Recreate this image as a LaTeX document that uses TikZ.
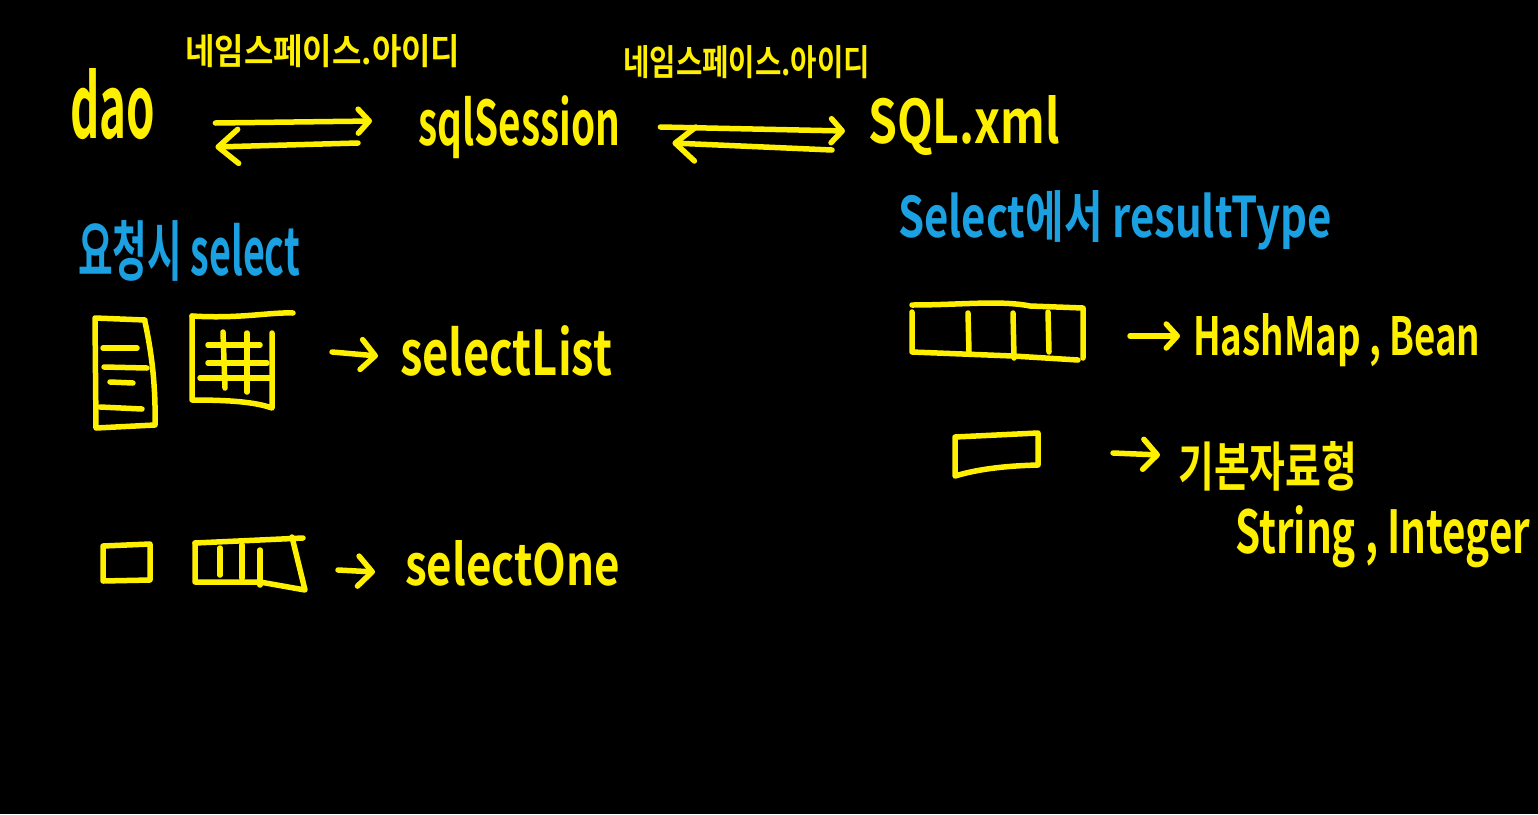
\documentclass[tikz,border=0pt]{standalone}
\usepackage{fontspec}
\setmainfont{Noto Sans CJK KR}[BoldFont={Noto Sans CJK KR Bold}]
\usetikzlibrary{arrows.meta}
\definecolor{hy}{RGB}{255,240,0}
\definecolor{hb}{RGB}{27,160,225}
\newcommand{\fitwh}[3]{\resizebox{#1pt}{#2pt}{#3}}
\begin{document}
\begin{tikzpicture}[x=1pt,y=-1pt,
  pen/.style={draw=hy,line width=5.5pt,line cap=round,line join=round},
  bar/.style={pen,-{Straight Barb[length=11pt,width=24pt,round]}},
  midbar/.style={pen,-{Straight Barb[length=14pt,width=30pt,round]}},
  bigbar/.style={pen,-{Straight Barb[length=20pt,width=34pt,round]}},
  hand/.style={text=hy,inner sep=0pt,anchor=base west,font=\fontsize{20}{24}\selectfont\bfseries},
  handblue/.style={hand,text=hb}]
\fill[black] (0,0) rectangle (1538,814);
\useasboundingbox (0,0) rectangle (1538,814);

% texts
\node[hand] (dao) at (70,138) {\fitwh{85}{70}{dao}};
\node[hand] (ns1) at (185,64) {\fitwh{275}{30}{네임스페이스.아이디}};
\node[hand] (sql) at (418,145) {\fitwh{202}{50}{sqlSession}};
\node[hand] (ns2) at (623,75) {\fitwh{247}{30}{네임스페이스.아이디}};
\node[hand] (xml) at (868,143) {\fitwh{192}{48}{SQL.xml}};
\node[handblue] (req) at (78,275) {\fitwh{222}{55}{요청시 select}};
\node[handblue] (rt) at (898,237) {\fitwh{434}{47}{Select에서 resultType}};
\node[hand] (sl) at (400,375) {\fitwh{212}{50}{selectList}};
\node[hand] (so) at (405,585) {\fitwh{215}{45}{selectOne}};
\node[hand] (hm) at (1193,355) {\fitwh{287}{42}{HashMap , Bean}};
\node[hand] (basic) at (1178,486) {\fitwh{179}{45}{기본자료형}};
\node[hand] (si) at (1235,553) {\fitwh{295}{48}{String , Integer}};

% top arrows
\draw[bar] ([shift={(60,-15)}]dao.base east) -- ([shift={(-46,-24)}]sql.base west);
\draw[bigbar] ([shift={(-60,-2)}]sql.base west) -- ([shift={(60,9)}]dao.base east);
\draw[bar] ([shift={(40,-18)}]sql.base east) -- ([shift={(-23,-12)}]xml.base west);
\draw[bigbar] ([shift={(-36,7)}]xml.base west) -- ([shift={(52,-2)}]sql.base east);

% list icon
\draw[pen] (145,320) -- (95,318) -- (96,428) -- (155,425) .. controls (156,380) and (150,345) .. (145,322);
\draw[pen] (103,348) -- (137,348);
\draw[pen] (104,367) -- (147,368);
\draw[pen] (110,382) -- (133,383);
\draw[pen] (100,407) -- (142,409);

% grid icon
\draw[pen] (192,316) .. controls (240,319) and (270,312) .. (293,313);
\draw[pen] (192,316) -- (192,400) .. controls (230,400) and (255,402) .. (272,408) -- (272,333);
\draw[pen] (208,345) -- (260,345);
\draw[pen] (208,363) -- (267,363);
\draw[pen] (200,378) -- (270,378);
\draw[pen] (223,332) -- (225,388);
\draw[pen] (247,333) -- (247,392);

% selectList arrow
\draw[midbar] ([shift={(-68,-23)}]sl.base west) -- ([shift={(-22,-19)}]sl.base west);

% bottom-left icons
\draw[pen] (103,546) -- (150,544) -- (150,580) -- (103,581) -- cycle;
\draw[pen] (195,543) -- (303,538);
\draw[pen] (195,543) -- (195,582) -- (260,582) -- (305,590) -- (292,537);
\draw[pen] (220,548) -- (220,575);
\draw[pen] (242,545) -- (242,578);
\draw[pen] (260,550) -- (260,585);

% selectOne arrow
\draw[midbar] ([shift={(-67,-15)}]so.base west) -- ([shift={(-30,-13)}]so.base west);

% right row icon
\draw[pen] (912,305) .. controls (960,305) and (1000,300) .. (1030,306) -- (1083,308) -- (1083,358);
\draw[pen] (912,312) -- (912,352) -- (1013,356) -- (1078,360);
\draw[pen] (968,313) -- (969,352);
\draw[pen] (1013,313) -- (1014,358);
\draw[pen] (1048,312) -- (1049,352);

% small rect
\draw[pen] (955,437) -- (1038,433) -- (1038,465) .. controls (1000,466) and (975,470) .. (955,476) -- cycle;

% right arrows
\draw[bar] ([shift={(-63,-19)}]hm.base west) -- ([shift={(-13,-19)}]hm.base west);
\draw[midbar] ([shift={(-65,-33)}]basic.base west) -- ([shift={(-18,-31)}]basic.base west);
\end{tikzpicture}
\end{document}
